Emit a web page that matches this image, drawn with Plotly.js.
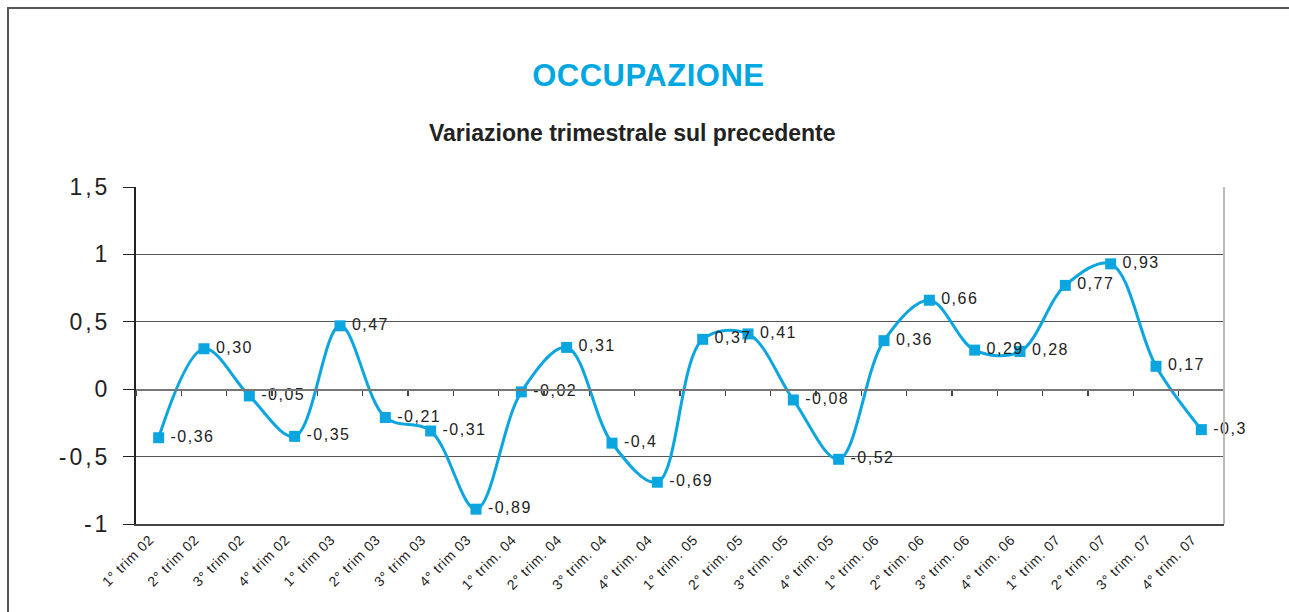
<!DOCTYPE html>
<html>
<head>
<meta charset="utf-8">
<script src="https://cdn.plot.ly/plotly-3.0.1.min.js"></script>
<style>
  html, body { margin: 0; padding: 0; background: #fff; }
  #frame { position: absolute; left: 7px; top: 7px; width: 1300px; height: 620px;
           border-left: 2px solid #555; border-top: 2px solid #555; }
  #chart { position: absolute; left: 0; top: 0; width: 1289px; height: 612px; }
  #chart .ytick text { letter-spacing: 3px; }
  #chart .xtick text { letter-spacing: 0.6px; }
  #chart .textpoint text { letter-spacing: 1.5px; transform: translateX(4px); }
  #chart .gtitle { letter-spacing: 0.5px; }
</style>
</head>
<body>
<div id="frame"></div>
<div id="chart"></div>
<script>
const categories = [
  "1° trim 02", "2° trim 02", "3° trim 02", "4° trim 02",
  "1° trim 03", "2° trim 03", "3° trim 03", "4° trim 03",
  "1° trim. 04", "2° trim. 04", "3° trim. 04", "4° trim. 04",
  "1° trim. 05", "2° trim. 05", "3° trim. 05", "4° trim. 05",
  "1° trim. 06", "2° trim. 06", "3° trim. 06", "4° trim. 06",
  "1° trim. 07", "2° trim. 07", "3° trim. 07", "4° trim. 07"
];
const values = [
  -0.36, 0.30, -0.05, -0.35,
  0.47, -0.21, -0.31, -0.89,
  -0.02, 0.31, -0.4, -0.69,
  0.37, 0.41, -0.08, -0.52,
  0.36, 0.66, 0.29, 0.28,
  0.77, 0.93, 0.17, -0.3
];
const valueLabels = [
  "-0,36", "0,30", "-0,05", "-0,35",
  "0,47", "-0,21", "-0,31", "-0,89",
  "-0,02", "0,31", "-0,4", "-0,69",
  "0,37", "0,41", "-0,08", "-0,52",
  "0,36", "0,66", "0,29", "0,28",
  "0,77", "0,93", "0,17", "-0,3"
];
const yTicks = [-1, -0.5, 0, 0.5, 1, 1.5];
const yTickText = ["-1", "-0,5", "0", "0,5", "1", "1,5"];

const blue = "#0BA5DF";

const main = {
  x: categories, y: values, type: "scatter", mode: "lines+markers+text",
  line: { shape: "spline", smoothing: 1, color: blue, width: 3 },
  marker: { symbol: "square", size: 11, color: blue },
  text: valueLabels, textposition: "middle right",
  textfont: { family: "Liberation Sans, Arial, sans-serif", size: 16, color: "#222" },
  cliponaxis: false, hoverinfo: "x+y", showlegend: false
};
const ticker = {
  x: categories.map((c, i) => i), y: values, xaxis: "x2", yaxis: "y",
  type: "scatter", mode: "markers", marker: { opacity: 0 }, hoverinfo: "skip", showlegend: false
};

const layout = {
  width: 1289, height: 612,
  margin: { l: 136, r: 65, t: 187, b: 88 },
  paper_bgcolor: "rgba(0,0,0,0)", plot_bgcolor: "rgba(0,0,0,0)",
  font: { family: "Liberation Sans, Arial, sans-serif", color: "#222" },
  title: {
    text: "<b>OCCUPAZIONE</b>", x: 0.503, xref: "container", xanchor: "center",
    y: 1 - 75 / 612, yref: "container", yanchor: "middle",
    font: { size: 31, color: "#00A7E1", family: "Liberation Sans, Arial, sans-serif" }
  },
  annotations: [{
    text: "<b>Variazione trimestrale sul precedente</b>", xref: "paper", yref: "paper",
    x: 0.456, y: 1.16, xanchor: "center", yanchor: "middle", showarrow: false,
    font: { size: 23, color: "#222" }
  }],
  xaxis: {
    type: "category", range: [-0.5, 23.5], tickangle: -45,
    tickfont: { size: 14, color: "#222" }, ticks: "", showgrid: false,
    ticklabelshift: -9,
    showline: true, linecolor: "#444", linewidth: 2, mirror: false, zeroline: false,
    fixedrange: true
  },
  xaxis2: {
    overlaying: "x", anchor: "free", position: 0.4, type: "linear",
    range: [-0.5, 23.5], tick0: 0.5, dtick: 1, ticks: "outside", ticklen: 5,
    tickcolor: "#444", tickwidth: 1.5, showticklabels: false, showgrid: false,
    showline: true, linecolor: "#777", linewidth: 1.5, zeroline: false, fixedrange: true
  },
  yaxis: {
    range: [-1, 1.5], tickvals: yTicks, ticktext: yTickText,
    tickfont: { size: 23, color: "#222" }, ticks: "outside", ticklen: 11,
    tickcolor: "#222", ticklabelstandoff: 8,
    showgrid: true, gridcolor: "#555", gridwidth: 1,
    showline: true, linecolor: "#222", linewidth: 2, zeroline: false, fixedrange: true
  },
  shapes: [{
    type: "line", xref: "paper", yref: "paper", x0: 1, x1: 1, y0: 0, y1: 1,
    line: { color: "#bbb", width: 2 }
  }]
};

Plotly.newPlot("chart", [main, ticker], layout, { displayModeBar: false, staticPlot: true });
</script>
</body>
</html>
